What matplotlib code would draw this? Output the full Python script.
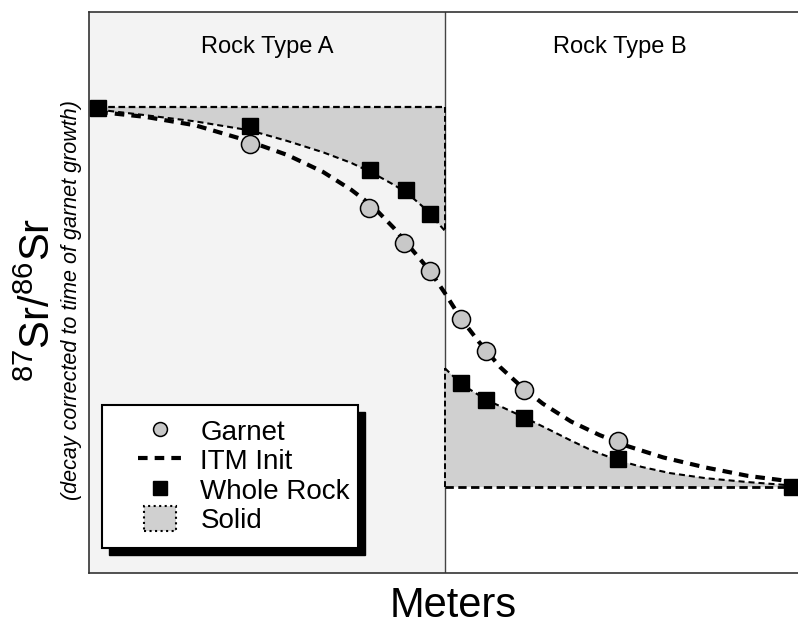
import matplotlib
matplotlib.use("Agg")
import matplotlib.pyplot as plt
from matplotlib.lines import Line2D
from matplotlib.patches import Patch, Rectangle
from matplotlib.legend_handler import HandlerPatch

plt.rcParams['font.family'] = 'Liberation Sans'
plt.rcParams['mathtext.fontset'] = 'custom'
plt.rcParams['mathtext.rm'] = 'Liberation Sans'
plt.rcParams['mathtext.default'] = 'rm'

# Distance along the traverse (arbitrary units, contact at 50.2)
contact = 50.2

# Garnet analyses
garnet_x = [22.7, 39.5, 44.4, 48.1, 52.5, 56.0, 61.4, 74.6]
garnet_y = [76.5, 65.1, 58.8, 53.8, 45.3, 39.6, 32.6, 23.5]

# Whole rock analyses
rock_x = [1.3, 22.7, 39.6, 44.7, 48.1, 52.5, 56.0, 61.4, 74.6, 99.2]
rock_y = [82.9, 79.7, 71.8, 68.3, 64.0, 33.9, 30.8, 27.6, 20.3, 15.3]

# Initial isotope profile (ITM)
itm_x = [1.3, 8, 15, 22, 28, 33, 37, 40, 43, 46, 48, 50.2, 52.5, 55, 58,
         61, 64, 68, 72, 76, 81, 87, 93, 99.2]
itm_y = [82.2, 81.3, 79.8, 77.2, 74.5, 71.5, 68.3, 65.4, 61.5, 57.0, 54.0,
         49.9, 45.3, 41.2, 36.7, 33.2, 30.2, 27.0, 24.6, 22.6, 20.6, 18.8,
         17.3, 16.3]

# Whole rock trend on each side of the contact
rock_a_x = [1.3, 8, 15, 22.7, 28, 33, 37, 40, 43, 45, 47, 48.5, 50.2]
rock_a_y = [82.6, 81.6, 80.5, 78.9, 77.0, 75.0, 73.1, 71.3, 69.2, 67.6,
            65.4, 63.4, 61.0]
rock_b_x = [50.2, 52.5, 56, 61.3, 65, 68, 71, 74.6, 78, 82, 87, 93, 99.2]
rock_b_y = [36.5, 33.7, 30.9, 27.8, 25.5, 23.6, 21.8, 20.1, 18.9, 17.8,
            16.9, 16.2, 15.6]

# Original (solid) compositions of the two rock types
solid_a = 83.07
solid_b = 15.3

garnet_fc = '#c8c8c8'
solid_fc = '#d0d0d0'
itm_dash = (0, (2.3, 1.7))
thin_dash = (0, (2.9, 1.9))
edge_dash = (0, (3, 1.6))

fig = plt.figure(figsize=(7.98, 6.26), dpi=100)
ax = fig.add_axes([89 / 798, 53 / 626, 716 / 798, 561 / 626])
ax.set_xlim(0, 101)
ax.set_ylim(0, 100)

ax.axvspan(0, contact, color='#f3f3f3', zorder=0, lw=0)
ax.axvline(contact, color='#444444', lw=1, zorder=1)

# shaded solid regions and their dashed outlines
ax.fill_between(rock_a_x, rock_a_y, solid_a, facecolor=solid_fc, lw=0,
                zorder=1)
ax.fill_between(rock_b_x, rock_b_y, solid_b, facecolor=solid_fc, lw=0,
                zorder=1)
ax.plot([rock_a_x[0], contact], [solid_a, solid_a], color='black', lw=1.6,
        ls=edge_dash, zorder=2)
ax.plot([contact, contact], [solid_a, rock_a_y[-1]], color='black', lw=1.4,
        ls=edge_dash, zorder=2)
ax.plot([contact, rock_b_x[-1]], [solid_b, solid_b], color='black', lw=2.0,
        ls=edge_dash, zorder=2)
ax.plot([contact, contact], [solid_b, rock_b_y[0]], color='black', lw=1.4,
        ls=edge_dash, zorder=2)

ax.plot(rock_a_x, rock_a_y, color='black', lw=1.5, ls=thin_dash, zorder=2)
ax.plot(rock_b_x, rock_b_y, color='black', lw=1.5, ls=thin_dash, zorder=2)
ax.plot(itm_x, itm_y, color='black', lw=3, ls=itm_dash, zorder=3)

ax.plot(garnet_x, garnet_y, ls='none', marker='o', ms=13, mfc=garnet_fc,
        mec='black', mew=1.1, zorder=4)
ax.plot(rock_x, rock_y, ls='none', marker='s', ms=11.5, color='black',
        zorder=5)

ax.text(contact / 2, 93.8, 'Rock Type A', ha='center', va='center', fontsize=17)
ax.text(74.9, 93.8, 'Rock Type B', ha='center', va='center', fontsize=17)

ax.set_xticks([])
ax.set_yticks([])
for s in ax.spines.values():
    s.set_color('#333333')
    s.set_linewidth(1.2)

ax.set_xlabel('Meters', fontsize=30, labelpad=13)
ax.xaxis.set_label_coords(0.509, -0.024, transform=ax.transAxes)
ax.xaxis.label.set_va('top')

fig.text(50 / 798, 1 - 300 / 626, r'$^{87}$Sr/$^{86}$Sr', rotation=90,
         rotation_mode='anchor', ha='center', va='baseline', fontsize=30)
fig.text(77 / 798, 1 - 300 / 626, '(decay corrected to time of garnet growth)',
         rotation=90, rotation_mode='anchor', ha='center', va='baseline',
         fontsize=15.5, style='italic')

# legend box with a hard drop shadow
box_x, box_y, box_w, box_h = 1.83, 4.46, 36.1, 25.5
ax.add_patch(Rectangle((box_x + 1.0, box_y - 1.25), box_w, box_h,
                       facecolor='black', edgecolor='black', zorder=6))
ax.add_patch(Rectangle((box_x, box_y), box_w, box_h, facecolor='white',
                       edgecolor='black', lw=1.5, zorder=7))


def narrow_patch(legend, orig_handle, xdescent, ydescent, width, height,
                 fontsize):
    return Rectangle((-xdescent + 0.14 * width, -ydescent), 0.72 * width,
                     height)


handles = [
    Line2D([], [], ls='none', marker='o', ms=10, mfc=garnet_fc, mec='black',
           mew=1.1, label='Garnet'),
    Line2D([], [], color='black', lw=3, ls=itm_dash, label='ITM Init'),
    Line2D([], [], ls='none', marker='s', ms=9.5, color='black',
           label='Whole Rock'),
    Patch(facecolor=solid_fc, edgecolor='black', ls=':', lw=1.5,
          label='Solid'),
]
leg = ax.legend(handles=handles, frameon=False, loc='upper left',
                bbox_to_anchor=(6.9, 27.6), bbox_transform=ax.transData,
                borderpad=0, borderaxespad=0, handlelength=1.6,
                handletextpad=0.65, labelspacing=0.05, handleheight=1.0,
                prop={'size': 20},
                handler_map={Patch: HandlerPatch(patch_func=narrow_patch)})
leg.set_zorder(8)

fig.savefig('out.png', dpi=100)
